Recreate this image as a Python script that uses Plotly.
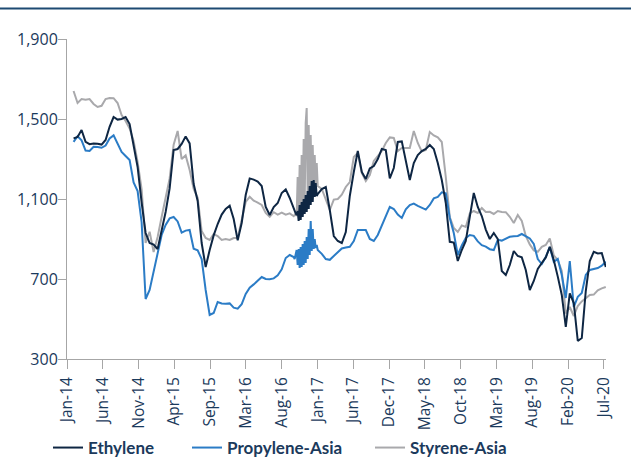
import pandas as pd
import plotly.graph_objects as go

# ---------------- data ----------------
# observation dates (regular sampling, denser sampling for Q4-2016, regular sampling)
DATE_SEG1 = ("2014-01-30", "2016-09-29", 56)
DATE_SEG2 = ("2016-10-03", "2017-01-13", 24)
DATE_SEG3 = ("2017-01-31", "2020-07-09", 72)

ethylene = [
    1403, 1410, 1445, 1386, 1374, 1378, 1376, 1372, 1395, 1461,
    1510, 1497, 1500, 1510, 1475, 1365, 1260, 1083, 930, 880,
    872, 850, 940, 1035, 1153, 1345, 1350, 1375, 1413, 1378,
    1175, 1090, 880, 760, 845, 918, 975, 1022, 1050, 1066,
    1000, 893, 980, 1120, 1203, 1197, 1187, 1165, 1060, 1020,
    1060, 1080, 1130, 1148, 1105, 1045,
    # Q4-2016
    1035, 1028, 1020, 1040, 990, 1070, 995, 1085, 1010, 1100,
    1025, 1120, 1035, 1140, 1050, 1165, 1070, 1190, 1085, 1195,
    1110, 1180, 1115, 1125,
    # 2017 onwards
    1150, 1160, 1045, 915, 890, 880, 935, 1115, 1235, 1340,
    1235, 1200, 1253, 1265, 1300, 1350, 1345, 1203, 1255, 1385,
    1388, 1286, 1195, 1280, 1320, 1340, 1350, 1370, 1350, 1280,
    1195, 1080, 886, 882, 790, 845, 890, 1011, 1130, 1060,
    1015, 947, 900, 930, 900, 740, 720, 770, 840, 815,
    808, 745, 645, 690, 750, 780, 808, 861, 795, 712,
    620, 460, 628, 580, 390, 405, 640, 790, 836, 828,
    830, 760,
]

propylene = [
    1386, 1414, 1393, 1342, 1340, 1361, 1360, 1356, 1367, 1403,
    1418, 1380, 1335, 1315, 1295, 1183, 1140, 985, 600, 645,
    740, 840, 920, 970, 1003, 1010, 988, 932, 942, 945,
    851, 843, 800, 645, 520, 530, 585, 578, 576, 578,
    557, 552, 574, 625, 657, 673, 693, 710, 700, 699,
    703, 718, 748, 805, 820, 810,
    # Q4-2016
    800, 830, 845, 770, 850, 755, 860, 760, 875, 770,
    890, 780, 910, 800, 950, 820, 990, 840, 950, 850,
    900, 855, 870, 845,
    # 2017 onwards
    826, 800, 796, 815, 835, 853, 857, 861, 890, 945,
    945, 945, 900, 890, 920, 965, 1010, 1061, 1050, 1022,
    1005, 1048, 1070, 1077, 1066, 1056, 1047, 1070, 1103, 1110,
    1133, 1128, 1005, 930, 820, 868, 905, 920, 916, 888,
    869, 862, 849, 845, 896, 892, 900, 911, 914, 915,
    925, 915, 903, 875, 800, 775, 810, 860, 786, 800,
    720, 605, 790, 560, 611, 630, 720, 745, 749, 755,
    767, 786,
]

styrene = [
    1640, 1580, 1600, 1596, 1600, 1575, 1560, 1566, 1600, 1605,
    1604, 1580, 1520, 1490, 1453, 1390, 1285, 1150, 880, 936,
    835, 910, 1010, 1110, 1203, 1372, 1440, 1300, 1318, 1245,
    1150, 1106, 940, 905, 895, 925, 915, 895, 900, 895,
    905, 905, 1000, 1085, 1111, 1092, 1082, 1070, 1030, 1011,
    1034, 1022, 1032, 1022, 1028, 1014,
    # Q4-2016
    1020, 1025, 1015, 1210, 1030, 1270, 1040, 1320, 1060, 1400,
    1080, 1480, 1555, 1100, 1470, 1120, 1420, 1140, 1370, 1150,
    1320, 1170, 1280, 1165,
    # 2017 onwards
    1150, 1100, 1045, 1097, 1100, 1122, 1160, 1185, 1310, 1330,
    1230, 1190, 1220, 1290, 1318, 1340, 1380, 1408, 1405, 1340,
    1355, 1355, 1355, 1440, 1380, 1338, 1345, 1435, 1418, 1408,
    1385, 1210, 1010, 955, 935, 968, 960, 1028, 1040, 1030,
    1055, 1035, 1036, 1025, 1040, 1035, 1034, 1011, 980, 1020,
    990, 915, 873, 843, 836, 861, 870, 903, 818, 795,
    740, 528, 560, 515, 565, 588, 605, 620, 622, 643,
    653, 660,
]

TICK_LABELS = ["Jan-14", "Jun-14", "Nov-14", "Apr-15", "Sep-15", "Mar-16",
               "Aug-16", "Jan-17", "Jun-17", "Dec-17", "May-18", "Oct-18",
               "Mar-19", "Aug-19", "Feb-20", "Jul-20"]
TICK_SPAN = ("2014-01-01", "2020-07-01")
X_RANGE = ["2014-01-01", "2020-07-10"]
Y_TICKS = [300, 700, 1100, 1500, 1900]

# ---------------- build ----------------
dates = []
for start, end, n in (DATE_SEG1, DATE_SEG2, DATE_SEG3):
    dates += list(pd.date_range(start, end, periods=n))

tickvals = list(pd.date_range(TICK_SPAN[0], TICK_SPAN[1], periods=len(TICK_LABELS)))

NAVY = "#0e2643"
BLUE = "#2b7cc6"
GRAY = "#a9a9ac"
AX = "#a6a6a6"
TXT = "#1b3a5c"

fig = go.Figure()
fig.add_trace(go.Scatter(x=dates, y=styrene, name="Styrene-Asia", mode="lines",
                         line=dict(color=GRAY, width=2), legend="legend3"))
fig.add_trace(go.Scatter(x=dates, y=propylene, name="Propylene-Asia", mode="lines",
                         line=dict(color=BLUE, width=2), legend="legend2"))
fig.add_trace(go.Scatter(x=dates, y=ethylene, name="Ethylene", mode="lines",
                         line=dict(color=NAVY, width=2), legend="legend"))

L, R, T, B = 67, 25, 39, 107
W, H = 631, 466
pw = W - L - R
ph = H - T - B

leg_font = dict(family="Lato", size=17, color=TXT, weight="bold")
leg_common = dict(orientation="h", yanchor="middle", y=(T + ph - 448) / ph,
                  xanchor="left", font=leg_font, bgcolor="rgba(0,0,0,0)",
                  borderwidth=0)

fig.update_layout(
    width=W, height=H,
    margin=dict(l=L, r=R, t=T, b=B, pad=0, autoexpand=False),
    paper_bgcolor="white", plot_bgcolor="white",
    showlegend=True,
    xaxis=dict(type="date", range=X_RANGE, tickvals=tickvals, ticktext=TICK_LABELS,
               tickangle=-90, ticks="outside", ticklen=9, tickcolor=AX, tickwidth=1,
               showline=True, linecolor=AX, linewidth=1, showgrid=False, zeroline=False,
               automargin=False, ticklabelstandoff=2,
               tickfont=dict(family="Open Sans", size=15.5, color=TXT)),
    yaxis=dict(range=[300, 1900], tickvals=Y_TICKS, tickformat=",", ticks="outside",
               ticklen=8, tickcolor=AX, tickwidth=1, showline=True, linecolor=AX,
               linewidth=1, showgrid=False, zeroline=False, ticklabelstandoff=-3,
               automargin=False,
               tickfont=dict(family="Open Sans", size=16, color=TXT)),
    legend=dict(x=(48 - L) / pw, **leg_common),
    legend2=dict(x=(187 - L) / pw, **leg_common),
    legend3=dict(x=(370 - L) / pw, **leg_common),
    shapes=[dict(type="line", xref="paper", yref="paper",
                 x0=-L / pw, x1=1 + R / pw, y0=1 + (T - 8.5) / ph, y1=1 + (T - 8.5) / ph,
                 line=dict(color="#1d4a72", width=2))],
)

fig.write_html("out.html")
